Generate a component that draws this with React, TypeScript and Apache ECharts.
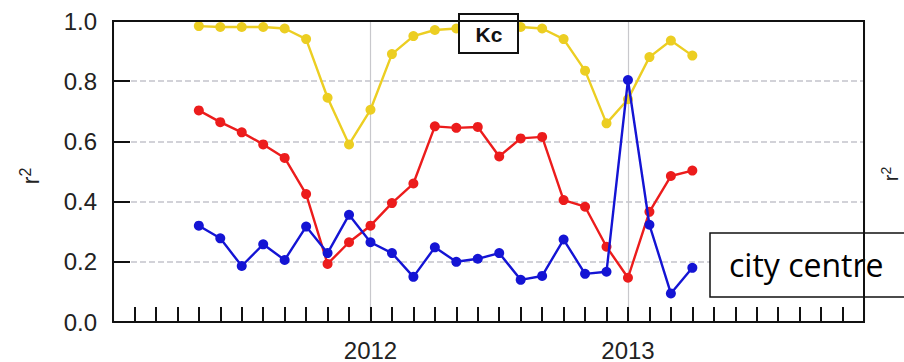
import React, { useEffect, useRef } from "react";
import * as echarts from "echarts";

const months: string[] = [
  "2011-05", "2011-06", "2011-07", "2011-08", "2011-09", "2011-10", "2011-11", "2011-12",
  "2012-01", "2012-02", "2012-03", "2012-04", "2012-05", "2012-06", "2012-07", "2012-08",
  "2012-09", "2012-10", "2012-11", "2012-12", "2013-01", "2013-02", "2013-03", "2013-04",
];
const yellowSeries: number[] = [
  0.983, 0.98, 0.98, 0.98, 0.975, 0.94, 0.745, 0.59,
  0.705, 0.89, 0.95, 0.97, 0.975, 0.98, 0.98, 0.98,
  0.975, 0.94, 0.835, 0.66, 0.74, 0.88, 0.935, 0.885,
];
const redSeries: number[] = [
  0.703, 0.664, 0.63, 0.59, 0.545, 0.425, 0.193, 0.265,
  0.32, 0.395, 0.46, 0.65, 0.645, 0.648, 0.55, 0.61,
  0.615, 0.405, 0.383, 0.25, 0.147, 0.366, 0.485, 0.503,
];
const blueSeries: number[] = [
  0.32, 0.278, 0.186, 0.258, 0.206, 0.317, 0.229, 0.356,
  0.265, 0.229, 0.15, 0.248, 0.2, 0.21, 0.229, 0.14,
  0.153, 0.274, 0.16, 0.167, 0.804, 0.323, 0.095, 0.18,
];
const axisStart = "2011-01";
const axisEnd = "2013-12";
const yearTicks: string[] = ["2012-01", "2013-01"];
const yearLabels: string[] = ["2012", "2013"];
const yTicks: number[] = [0, 0.2, 0.4, 0.6, 0.8, 1.0];
const panelLabel = "Kc";
const siteLabel = "city centre";
const yNameBase = "r";
const yNameSup = "2";

const monthIndex = (s: string): number => {
  const [y, m] = s.split("-").map(Number);
  const [y0, m0] = axisStart.split("-").map(Number);
  return (y - y0) * 12 + (m - m0);
};

const YELLOW = "#ecce22";
const RED = "#ec1c1c";
const BLUE = "#1414d4";
const FRAME = "#111111";
const FONT = "Liberation Sans, Arial, sans-serif";

export default function App() {
  const ref = useRef<HTMLDivElement>(null);
  const frameRef = useRef<HTMLDivElement>(null);
  useEffect(() => {
    if (!ref.current) return;
    const chart = echarts.init(ref.current, null, { renderer: "svg" });
    const xMax = monthIndex(axisEnd);
    const yMin = yTicks[0];
    const yMax = yTicks[yTicks.length - 1];
    const yearIdx = yearTicks.map(monthIndex);
    const mk = (vals: number[]) => months.map((m, i) => [monthIndex(m), vals[i]]);
    const mkSeries = (name: string, vals: number[], color: string, z: number) => ({
      name,
      type: "line",
      data: mk(vals),
      symbol: "circle",
      symbolSize: 10,
      z,
      lineStyle: { color, width: 2.4 },
      itemStyle: { color },
    });
    const nameText = (x: number, y: number, fs: number) => ({
      type: "text",
      x,
      y,
      rotation: Math.PI / 2,
      z: 10,
      style: {
        text: `{a|${yNameBase}}{b|${yNameSup}}`,
        fill: "#222",
        align: "center",
        verticalAlign: "middle",
        rich: {
          a: { fontSize: fs, fontFamily: FONT, fill: "#222", lineHeight: fs + 4 },
          b: { fontSize: Math.round(fs * 0.7), fontFamily: FONT, fill: "#222", verticalAlign: "top", lineHeight: Math.round(fs * 0.7) },
        },
      },
    });
    chart.setOption({
      animation: false,
      grid: { left: 113, right: 40, top: 21, bottom: 35 },
      xAxis: [
        {
          type: "value",
          min: 0,
          max: xMax,
          interval: 1,
          axisLine: { show: true, lineStyle: { color: FRAME, width: 2 } },
          axisTick: { show: true, inside: true, length: 15, lineStyle: { color: FRAME, width: 2 } },
          splitLine: { show: false },
          axisLabel: {
            margin: 16,
            fontSize: 24,
            fontFamily: FONT,
            color: "#222",
            formatter: (v: number) => {
              const k = yearIdx.indexOf(Math.round(v));
              return k >= 0 ? yearLabels[k] : "";
            },
          },
        },
        {
          type: "value",
          min: 0,
          max: xMax,
          interval: 12,
          position: "top",
          axisLine: { show: false },
          axisTick: { show: false },
          axisLabel: { show: false },
          splitLine: { show: true, lineStyle: { color: "#c8c8cc", width: 1.2 } },
        },
      ],
      yAxis: {
        type: "value",
        min: yMin,
        max: yMax,
        interval: 0.2,
        axisLine: { show: true, lineStyle: { color: FRAME, width: 2 } },
        axisTick: { show: true, inside: true, length: 17, lineStyle: { color: FRAME, width: 2 } },
        splitLine: { show: true, lineStyle: { color: "#c4c4cc", width: 1.5, type: "dashed" } },
        axisLabel: {
          margin: 16,
          fontSize: 24,
          fontFamily: FONT,
          color: "#222",
          formatter: (v: number) => v.toFixed(1),
        },
      },
      series: [
        mkSeries("yellow", yellowSeries, YELLOW, 2),
        mkSeries("red", redSeries, RED, 3),
        mkSeries("blue", blueSeries, BLUE, 4),
      ],
      graphic: [
        nameText(31, 176, 23),
        nameText(891, 174, 20),
        {
          type: "group",
          z: 60,
          children: [
            {
              type: "rect",
              shape: { x: 459, y: 14, width: 59, height: 39 },
              style: { fill: "#fff", stroke: "#111", lineWidth: 2 },
              z: 60,
            },
            {
              type: "text",
              x: 489,
              y: 34,
              style: {
                text: panelLabel,
                fontSize: 21,
                fontWeight: "bold",
                fontFamily: FONT,
                fill: "#111",
                align: "center",
                verticalAlign: "middle",
              },
              z: 61,
            },
          ],
        },
        {
          type: "group",
          z: 60,
          children: [
            {
              type: "rect",
              shape: { x: 710, y: 233, width: 210, height: 64 },
              style: { fill: "#fff", stroke: "#111", lineWidth: 1.5 },
              z: 60,
            },
            {
              type: "text",
              x: 729,
              y: 264,
              style: {
                text: siteLabel,
                fontSize: 32,
                fontFamily: "Open Sans, sans-serif",
                fill: "#000",
                align: "left",
                verticalAlign: "middle",
              },
              z: 61,
            },
          ],
        },
      ],
    });
    const tl = chart.convertToPixel({ xAxisIndex: 0, yAxisIndex: 0 }, [0, yMax]) as number[];
    const br = chart.convertToPixel({ xAxisIndex: 0, yAxisIndex: 0 }, [xMax, yMin]) as number[];
    const f = frameRef.current;
    if (f && tl && br) {
      f.style.left = `${tl[0] - 1}px`;
      f.style.top = `${tl[1] - 1}px`;
      f.style.width = `${br[0] - tl[0] + 2}px`;
      f.style.height = `${br[1] - tl[1] + 2}px`;
      f.style.display = "block";
    }
    return () => chart.dispose();
  }, []);
  return (
    <div style={{ width: 904, height: 362, position: "absolute", left: 0, top: 0, background: "#fff" }}>
      <div ref={ref} style={{ width: 904, height: 362, position: "absolute", left: 0, top: 0 }} />
      <div
        ref={frameRef}
        style={{
          position: "absolute",
          display: "none",
          boxSizing: "border-box",
          borderTop: `2px solid ${FRAME}`,
          borderRight: `2px solid ${FRAME}`,
          pointerEvents: "none",
          zIndex: 1,
        }}
      />
    </div>
  );
}
